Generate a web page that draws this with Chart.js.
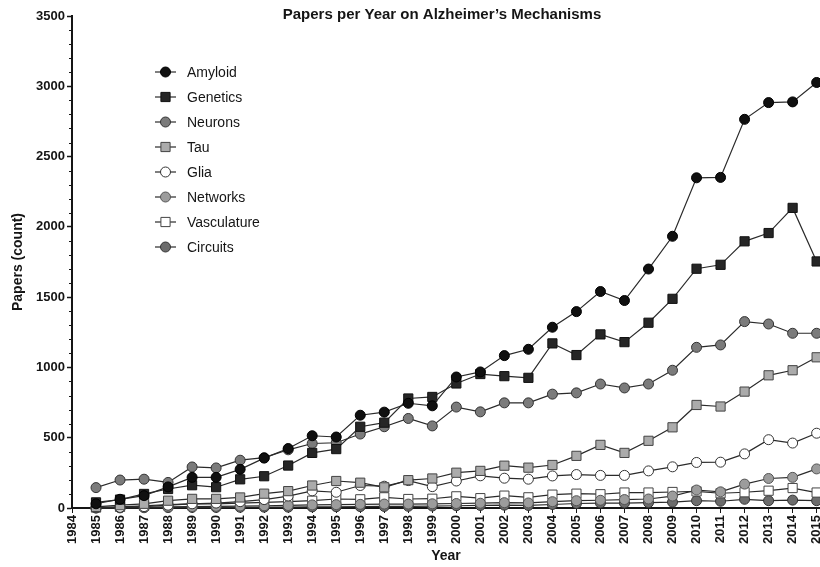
<!DOCTYPE html>
<html>
<head>
<meta charset="utf-8">
<title>Papers per Year on Alzheimer's Mechanisms</title>
<script src="https://cdn.jsdelivr.net/npm/chart.js@4.4.1/dist/chart.umd.min.js"></script>
<style>
  html, body { margin: 0; padding: 0; background: #fff; }
  #wrap { width: 820px; height: 567px; }
</style>
</head>
<body>
<div id="wrap"><canvas id="papersChart" width="820" height="567"></canvas></div>
<script>
// paper counts per year, 1985-2015
const years = [1985, 1986, 1987, 1988, 1989, 1990, 1991, 1992, 1993, 1994,
  1995, 1996, 1997, 1998, 1999, 2000, 2001, 2002, 2003, 2004,
  2005, 2006, 2007, 2008, 2009, 2010, 2011, 2012, 2013, 2014, 2015];

const amyloid = [30, 62, 88, 150, 218, 218, 275, 355, 423, 514,
  505, 660, 682, 745, 727, 932, 968, 1084, 1129, 1286,
  1397, 1540, 1476, 1700, 1933, 2349, 2352, 2765, 2884, 2889, 3027];
const genetics = [40, 60, 100, 135, 162, 148, 204, 226, 302, 392,
  419, 578, 607, 779, 790, 886, 953, 938, 926, 1171,
  1088, 1235, 1180, 1318, 1488, 1702, 1730, 1897, 1956, 2135, 1754];
const neurons = [145, 199, 205, 182, 292, 285, 340, 358, 414, 459,
  464, 526, 578, 637, 584, 718, 684, 748, 748, 810,
  819, 882, 854, 882, 980, 1143, 1160, 1326, 1309, 1243, 1243];
const tau = [8, 20, 30, 52, 65, 65, 75, 102, 120, 160,
  192, 180, 147, 198, 210, 251, 264, 301, 287, 306,
  371, 449, 392, 478, 574, 733, 722, 828, 944, 980, 1072];
const glia = [2, 5, 10, 20, 30, 35, 45, 60, 85, 122,
  112, 160, 155, 195, 152, 192, 229, 212, 205, 228,
  238, 232, 232, 264, 293, 324, 326, 385, 486, 462, 532];
const networks = [1, 3, 5, 8, 10, 12, 14, 16, 18, 22,
  24, 26, 28, 28, 30, 32, 34, 38, 36, 45,
  52, 55, 60, 64, 85, 128, 115, 170, 210, 218, 278];
const vasculature = [3, 8, 15, 25, 30, 30, 35, 40, 45, 52,
  64, 62, 76, 64, 66, 83, 70, 88, 76, 95,
  102, 98, 110, 110, 114, 118, 105, 112, 123, 142, 110];
const circuits = [0, 1, 2, 3, 4, 4, 5, 6, 6, 8,
  9, 10, 11, 12, 14, 16, 18, 20, 18, 25,
  32, 35, 35, 38, 42, 52, 48, 62, 52, 56, 52];

const yearTicks = [1984, 1985, 1986, 1987, 1988, 1989, 1990, 1991, 1992, 1993,
  1994, 1995, 1996, 1997, 1998, 1999, 2000, 2001, 2002, 2003,
  2004, 2005, 2006, 2007, 2008, 2009, 2010, 2011, 2012, 2013, 2014, 2015];
const countTicks = [0, 500, 1000, 1500, 2000, 2500, 3000, 3500];

const FONT = '"Liberation Sans", Arial, sans-serif';
const INK = '#151515';

function series(label, values, shape, fill, edge) {
  return {
    label: label,
    data: years.map((yr, i) => ({ x: yr, y: values[i] })),
    borderColor: '#2a2a2a',
    borderWidth: 1.2,
    tension: 0,
    pointStyle: shape,
    pointRadius: shape === 'rect' ? 6.5 : 5,
    pointBackgroundColor: fill,
    pointBorderColor: edge,
    pointBorderWidth: 1,
    clip: false
  };
}

// title and key drawn inside the plot area
const headerAndKey = {
  id: 'headerAndKey',
  afterDraw(chart) {
    const ctx = chart.ctx;
    ctx.save();
    ctx.fillStyle = INK;
    ctx.font = 'bold 15px ' + FONT;
    ctx.textAlign = 'center';
    ctx.textBaseline = 'middle';
    ctx.fillText('Papers per Year on Alzheimer\u2019s Mechanisms', 442, 15);

    ctx.textAlign = 'left';
    ctx.font = '14px ' + FONT;
    chart.data.datasets.forEach((ds, i) => {
      const y = 72 + i * 25;
      ctx.strokeStyle = '#2a2a2a';
      ctx.lineWidth = 1.2;
      ctx.beginPath();
      ctx.moveTo(155, y);
      ctx.lineTo(176, y);
      ctx.stroke();
      ctx.fillStyle = ds.pointBackgroundColor;
      ctx.strokeStyle = ds.pointBorderColor;
      ctx.lineWidth = 1;
      Chart.helpers.drawPoint(ctx, {
        pointStyle: ds.pointStyle, radius: ds.pointRadius, rotation: 0, borderWidth: 1
      }, 165.5, y);
      ctx.fillStyle = INK;
      ctx.fillText(ds.label, 187, y + 1);
    });
    ctx.restore();
  }
};

// short unlabelled marks every 100 papers on the count axis
const minorTicks = {
  id: 'minorTicks',
  afterDraw(chart) {
    const scale = chart.scales.y;
    const ctx = chart.ctx;
    ctx.save();
    ctx.strokeStyle = INK;
    ctx.lineWidth = 1;
    for (let v = 100; v < 3500; v += 100) {
      if (v % 500 === 0) continue;
      const py = Math.round(scale.getPixelForValue(v)) + 0.5;
      ctx.beginPath();
      ctx.moveTo(scale.right - 3, py);
      ctx.lineTo(scale.right, py);
      ctx.stroke();
    }
    ctx.restore();
  }
};

new Chart(document.getElementById('papersChart'), {
  type: 'line',
  data: {
    datasets: [
      series('Amyloid', amyloid, 'circle', '#101010', '#000'),
      series('Genetics', genetics, 'rect', '#262626', '#111'),
      series('Neurons', neurons, 'circle', '#7b7b7b', '#333'),
      series('Tau', tau, 'rect', '#ababab', '#444'),
      series('Glia', glia, 'circle', '#ffffff', '#333'),
      series('Networks', networks, 'circle', '#9c9c9c', '#555'),
      series('Vasculature', vasculature, 'rect', '#ffffff', '#444'),
      series('Circuits', circuits, 'circle', '#6c6c6c', '#333')
    ]
  },
  options: {
    responsive: false,
    animation: false,
    layout: { autoPadding: false, padding: { top: 16, left: 0, right: 0, bottom: 0 } },
    plugins: {
      legend: { display: false },
      title: { display: false },
      tooltip: { enabled: false }
    },
    scales: {
      x: {
        type: 'linear',
        min: 1984,
        max: 2015.14,
        border: { color: INK, width: 2 },
        grid: { drawOnChartArea: false, tickLength: 5, color: INK, tickWidth: 1 },
        ticks: {
          autoSkip: false,
          minRotation: 90,
          maxRotation: 90,
          padding: 2,
          color: INK,
          font: { family: FONT, size: 13, weight: 'bold' },
          callback: v => String(v)
        },
        afterBuildTicks: scale => { scale.ticks = yearTicks.map(v => ({ value: v })); },
        title: {
          display: true,
          text: 'Year',
          color: INK,
          font: { family: FONT, size: 14, weight: 'bold' },
          padding: { top: 2, bottom: 2 }
        },
        afterFit: scale => {
          scale.height = 59;
          scale.paddingLeft = 0;
          scale.paddingRight = 0;
        }
      },
      y: {
        min: 0,
        max: 3500,
        border: { color: INK, width: 2 },
        grid: { drawOnChartArea: false, tickLength: 5, color: INK, tickWidth: 1.5 },
        ticks: {
          padding: 2,
          color: INK,
          font: { family: FONT, size: 13, weight: 'bold' },
          callback: v => String(v)
        },
        afterBuildTicks: scale => { scale.ticks = countTicks.map(v => ({ value: v })); },
        title: {
          display: true,
          text: 'Papers (count)',
          color: INK,
          font: { family: FONT, size: 14, weight: 'bold' },
          padding: { top: 10, bottom: 4 }
        },
        afterFit: scale => {
          scale.width = 72;
          scale.paddingTop = 0;
          scale.paddingBottom = 0;
        }
      }
    }
  },
  plugins: [minorTicks, headerAndKey]
});
</script>
</body>
</html>
